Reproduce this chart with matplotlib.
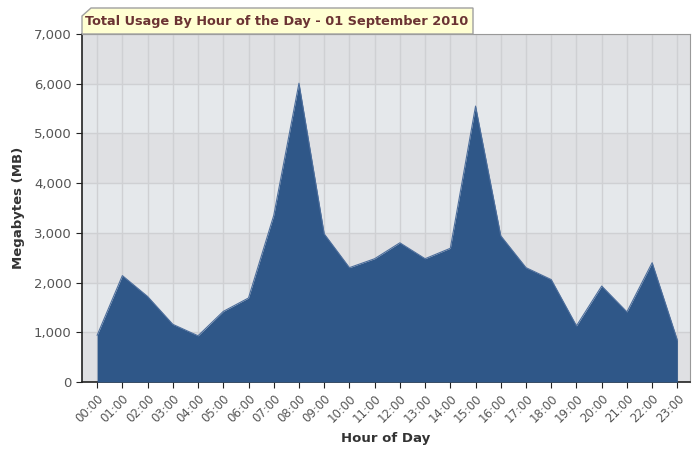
import numpy as np
import matplotlib
matplotlib.use('Agg')
import matplotlib.pyplot as plt
from matplotlib.patches import Polygon
from matplotlib.ticker import FuncFormatter

# hourly usage in MB
hours = ['%02d:00' % h for h in range(24)]
usage = [940, 2140, 1720, 1160, 930, 1420, 1690, 3350, 6010, 2980,
         2300, 2480, 2800, 2480, 2690, 5550, 2940, 2300, 2060, 1130,
         1930, 1410, 2400, 840]

title = 'Total Usage By Hour of the Day - 01 September 2010'

fig = plt.figure(figsize=(6.96, 4.49), dpi=100)
ax = fig.add_axes([82/696, 1 - 382/449, (690-82)/696, (382-34)/449])

x = np.arange(len(hours))

# alternating horizontal bands
for i in range(7):
    col = '#dfe0e3' if i % 2 == 0 else '#e5e8eb'
    ax.axhspan(i*1000, (i+1)*1000, color=col, zorder=0, lw=0)

ax.fill_between(x, usage, 0, color='#2f5788', zorder=3, lw=0)
ax.plot(x, usage, color='#4d6e9c', lw=0.8, zorder=4)

ax.set_xlim(-0.6, 23.5)
ax.set_ylim(0, 7000)
ax.set_xticks(x)
ax.set_xticklabels(hours, rotation=45, ha='right', rotation_mode='anchor',
                   fontsize=8.5, color='#555555')
ax.set_yticks(range(0, 7001, 1000))
ax.yaxis.set_major_formatter(FuncFormatter(lambda v, p: '{:,.0f}'.format(v)))
ax.tick_params(axis='y', labelsize=9.5, colors='#555555', length=4)
ax.tick_params(axis='x', length=4)
ax.tick_params(axis='both', color='#222222')

ax.grid(True, color='#cfd0d3', lw=1, zorder=1)
ax.set_axisbelow(True)

for s in ['top', 'right']:
    ax.spines[s].set_color('#999999')
for s in ['left', 'bottom']:
    ax.spines[s].set_color('#222222')
    ax.spines[s].set_linewidth(1.2)

ax.set_xlabel('Hour of Day', fontsize=9.5, fontweight='bold', color='#333333', labelpad=5)
ax.set_ylabel('Megabytes (MB)', fontsize=9.5, fontweight='bold', color='#333333', labelpad=6)

# title tab with cut corner
W, H = 696, 449
pts = [(82, 34), (82, 16), (91, 8), (473, 8), (473, 34)]
tab = Polygon([(px / W, 1 - py / H) for px, py in pts], closed=True,
              transform=fig.transFigure, facecolor='#ffffd2', edgecolor='#a0a0a0',
              lw=1, zorder=5)
fig.patches.append(tab)
fig.text(277/W, 1 - 21/H, title, ha='center', va='center', fontsize=9.3,
         fontweight='bold', color='#6b3333', zorder=6)

fig.savefig('out.png', dpi=100)
